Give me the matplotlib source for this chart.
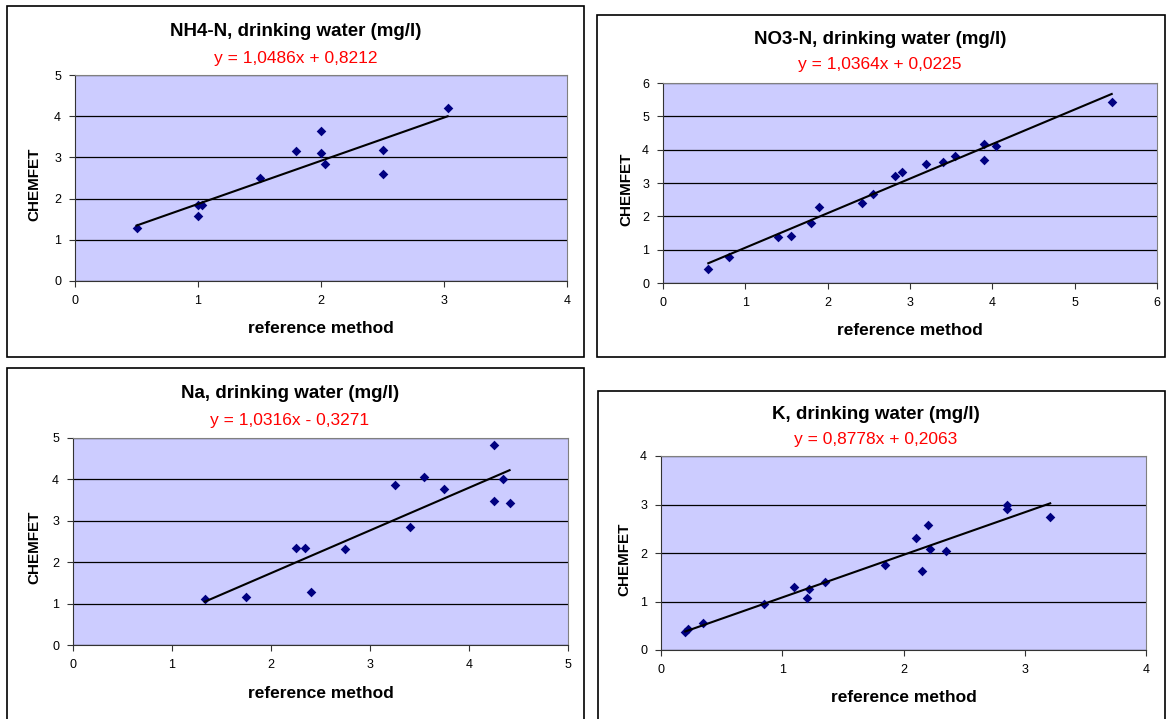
import numpy as np
import matplotlib
matplotlib.use("Agg")
import matplotlib.pyplot as plt
from matplotlib.patches import Rectangle

plt.rcParams['font.family'] = ['Liberation Sans', 'DejaVu Sans']

W, H = 1167, 719

# ---- data ----
titles = ["NH4-N, drinking water (mg/l)", "NO3-N, drinking water (mg/l)",
          "Na, drinking water (mg/l)", "K, drinking water (mg/l)"]

nh4_x = [0.50, 1.00, 1.03, 1.00, 1.50, 1.80, 2.00, 2.00, 2.03, 2.50, 2.50, 3.03]
nh4_y = [1.28, 1.85, 1.85, 1.57, 2.50, 3.15, 3.65, 3.10, 2.84, 3.17, 2.60, 4.21]

no3_x = [0.55, 0.80, 1.40, 1.55, 1.80, 1.90, 2.42, 2.55, 2.82, 2.90, 3.20,
         3.40, 3.55, 3.90, 3.90, 4.05, 5.45]
no3_y = [0.43, 0.77, 1.37, 1.42, 1.80, 2.28, 2.41, 2.68, 3.21, 3.34, 3.58,
         3.64, 3.80, 4.17, 3.68, 4.11, 5.43]

na_x = [1.33, 1.75, 2.25, 2.34, 2.40, 2.75, 3.25, 3.40, 3.55, 3.75, 4.25,
        4.25, 4.34, 4.41]
na_y = [1.10, 1.15, 2.34, 2.34, 1.28, 2.32, 3.87, 2.84, 4.05, 3.76, 4.82,
        3.48, 4.00, 3.43]

k_x = [0.20, 0.22, 0.35, 0.85, 1.10, 1.20, 1.22, 1.35, 1.85, 2.10, 2.15,
       2.20, 2.22, 2.35, 2.85, 2.85, 3.21]
k_y = [0.37, 0.43, 0.55, 0.95, 1.30, 1.07, 1.25, 1.40, 1.75, 2.30, 1.62,
       2.57, 2.08, 2.04, 2.98, 2.90, 2.74]

slopes = [1.0486, 1.0364, 1.0316, 0.8778]
intercepts = [0.8212, 0.0225, -0.3271, 0.2063]
x_max = [4, 6, 5, 4]
y_max = [5, 6, 5, 4]

series = [(nh4_x, nh4_y), (no3_x, no3_y), (na_x, na_y), (k_x, k_y)]

# ---- layout in pixels (left, top, right, bottom) ----
boxes = [(7, 6, 584, 357), (597, 15, 1165, 357),
         (7, 368, 584, 730), (598, 391, 1165, 730)]
plots = [(75, 75, 567, 281), (663, 83, 1157, 283),
         (73, 438, 568, 645), (661, 456, 1146, 650)]
title_pos = [(296, 31), (880, 40), (290, 393), (876, 415)]
eq_pos = [(296, 59), (880, 65), (290, 421), (876, 440)]
xlab_y = [329, 331, 694, 697]
ylab_x = [34, 626, 34, 624]

fig = plt.figure(figsize=(W / 100, H / 100), dpi=100)
fig.patch.set_facecolor('white')


def fx(px):
    return px / W


def fy(py):
    return 1 - py / H


def fmt(v):
    return ("%.4f" % abs(v)).replace('.', ',')


for i in range(4):
    l, t, r, b = boxes[i]
    fig.patches.append(Rectangle((fx(l), fy(b)), fx(r - l), (b - t) / H,
                                 transform=fig.transFigure, fill=False,
                                 ec='black', lw=1.2, zorder=0))

    pl, pt, pr, pb = plots[i]
    ax = fig.add_axes([fx(pl), fy(pb), fx(pr - pl), (pb - pt) / H])
    ax.set_facecolor('#CCCCFF')
    xs, ys = series[i]
    ax.scatter(xs, ys, marker='D', s=24, color='#000080', zorder=3,
               linewidths=0)
    xl = np.array([min(xs), max(xs)])
    ax.plot(xl, slopes[i] * xl + intercepts[i], color='black', lw=1.5,
            zorder=4)
    ax.set_xlim(0, x_max[i])
    ax.set_ylim(0, y_max[i])
    ax.set_xticks(range(x_max[i] + 1))
    ax.set_yticks(range(y_max[i] + 1))
    ax.yaxis.grid(True, color='black', lw=0.9)
    ax.set_axisbelow(True)
    ax.tick_params(direction='out', length=4, width=0.8, labelsize=9,
                   pad=6, color='#333333')
    for s in ['top', 'right']:
        ax.spines[s].set_color('#808080')
    for s in ['left', 'bottom']:
        ax.spines[s].set_color('#333333')

    tx, ty = title_pos[i]
    fig.text(fx(tx), fy(ty), titles[i], ha='center', va='center',
             fontsize=13.5, fontweight='bold')
    sign = '+' if intercepts[i] >= 0 else '-'
    eq = "y = %sx %s %s" % (fmt(slopes[i]), sign, fmt(intercepts[i]))
    ex, ey = eq_pos[i]
    fig.text(fx(ex), fy(ey), eq, ha='center', va='center',
             fontsize=12.5, color='#FF0000')
    fig.text(fx((pl + pr) / 2), fy(xlab_y[i]), "reference method",
             ha='center', va='center', fontsize=12.5, fontweight='bold')
    fig.text(fx(ylab_x[i]), fy((pt + pb) / 2 + 6), "CHEMFET", rotation=90,
             ha='center', va='center', fontsize=11, fontweight='bold')

fig.savefig("out.png", dpi=100)
